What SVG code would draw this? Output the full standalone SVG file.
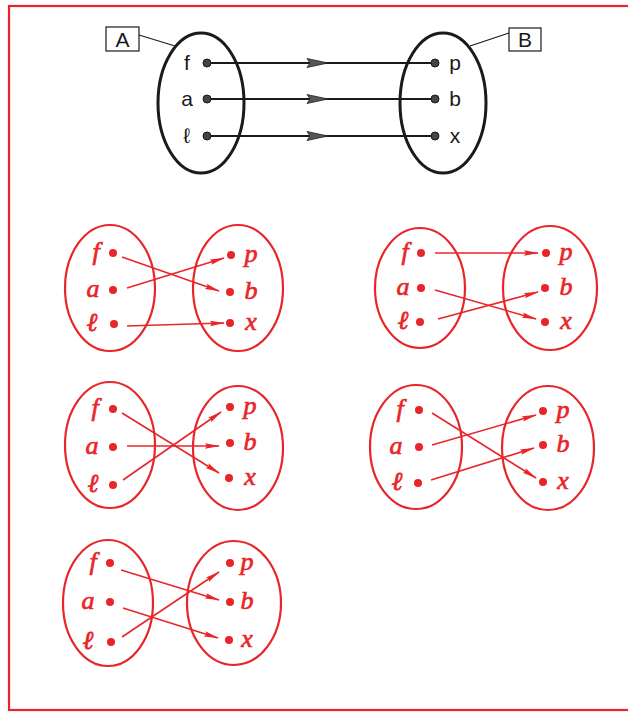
<svg xmlns="http://www.w3.org/2000/svg" width="628" height="712" viewBox="0 0 628 712">
<style>
.frame{fill:none;stroke:#e8262a;stroke-width:2.2}
.bk{fill:none;stroke:#1a1a1a;stroke-width:3}
.bl{stroke:#1a1a1a;stroke-width:1.8;fill:none}
.bthin{stroke:#1a1a1a;stroke-width:1.2;fill:none}
.bdot{fill:#444;stroke:#1a1a1a;stroke-width:1}
.btxt{font-family:"Liberation Sans",Arial,sans-serif;font-size:21px;fill:#1a1a1a;text-anchor:middle}
.rel{fill:none;stroke:#e8262a;stroke-width:2.2}
.rl{stroke:#e8262a;stroke-width:1.6;fill:none;marker-end:url(#rarr)}
.rdot{fill:#e8262a}
.rtxt{font-family:"Liberation Serif","DejaVu Serif",serif;font-style:italic;font-size:26px;fill:#e8262a;stroke:#e8262a;stroke-width:0.7;text-anchor:middle}
</style>
<defs>
<marker id="rarr" markerUnits="userSpaceOnUse" markerWidth="15" markerHeight="7" viewBox="0 0 15 7" refX="14" refY="3.5" orient="auto">
<path d="M0,0.8 L15,3.5 L0,6.2 L2,3.5 z" fill="#e8262a"/>
</marker>
<path id="bhead" d="M-10,-4.5 L11,0 L-10,4.5 L-7,0 z" fill="#555" stroke="#222" stroke-width="0.8"/>
</defs>
<rect class="frame" x="9" y="6" width="630" height="704"/>

<g id="top-A">
<rect class="bthin" x="106" y="27" width="33" height="24"/>
<text class="btxt" x="122.5" y="46.5">A</text>
<line class="bthin" x1="139" y1="35" x2="175" y2="46"/>
<ellipse class="bk" cx="201" cy="103" rx="43" ry="70"/>
<text class="btxt" x="187" y="70">f</text>
<text class="btxt" x="187" y="106">a</text>
<text class="btxt" x="187" y="143">ℓ</text>
</g>
<g id="top-B">
<rect class="bthin" x="509" y="28" width="32" height="23"/>
<text class="btxt" x="525" y="47">B</text>
<line class="bthin" x1="509" y1="33" x2="470" y2="46"/>
<ellipse class="bk" cx="443" cy="103" rx="43" ry="70"/>
<text class="btxt" x="455" y="70">p</text>
<text class="btxt" x="455" y="106">b</text>
<text class="btxt" x="455" y="143">x</text>
</g>
<g id="top-connectors">
<line class="bl" x1="207" y1="63" x2="435" y2="63"/>
<line class="bl" x1="207" y1="99" x2="435" y2="99"/>
<line class="bl" x1="207" y1="136" x2="435" y2="136"/>
<use href="#bhead" x="317" y="63"/>
<use href="#bhead" x="317" y="99"/>
<use href="#bhead" x="317" y="136"/>
<circle class="bdot" cx="207" cy="63" r="4"/>
<circle class="bdot" cx="207" cy="99" r="4"/>
<circle class="bdot" cx="207" cy="136" r="4"/>
<circle class="bdot" cx="435" cy="63" r="4"/>
<circle class="bdot" cx="435" cy="99" r="4"/>
<circle class="bdot" cx="435" cy="136" r="4"/>
</g>

<!-- Diagram 1 -->
<g id="d1-A">
<ellipse class="rel" cx="110" cy="288" rx="45" ry="63"/>
<text class="rtxt" x="96" y="260">f</text>
<text class="rtxt" x="93" y="297">a</text>
<text class="rtxt" x="92" y="331">ℓ</text>
<circle class="rdot" cx="113" cy="253" r="4"/>
<circle class="rdot" cx="113" cy="290" r="4"/>
<circle class="rdot" cx="114" cy="324" r="4"/>
</g>
<g id="d1-B">
<ellipse class="rel" cx="238" cy="288" rx="45" ry="63"/>
<circle class="rdot" cx="231" cy="255" r="4"/>
<circle class="rdot" cx="230" cy="292" r="4"/>
<circle class="rdot" cx="230" cy="323" r="4"/>
<text class="rtxt" x="251" y="262">p</text>
<text class="rtxt" x="251" y="299">b</text>
<text class="rtxt" x="251" y="330">x</text>
</g>
<g id="d1-connectors">
<line class="rl" x1="122" y1="257" x2="219" y2="291"/>
<line class="rl" x1="127" y1="288" x2="224" y2="258"/>
<line class="rl" x1="127" y1="326" x2="224" y2="323"/>
</g>

<!-- Diagram 2 -->
<g id="d2-A">
<ellipse class="rel" cx="420" cy="288" rx="45" ry="60"/>
<text class="rtxt" x="405" y="260">f</text>
<text class="rtxt" x="403" y="295">a</text>
<text class="rtxt" x="403" y="329">ℓ</text>
<circle class="rdot" cx="421" cy="253" r="4"/>
<circle class="rdot" cx="421" cy="288" r="4"/>
<circle class="rdot" cx="420" cy="322" r="4"/>
</g>
<g id="d2-B">
<ellipse class="rel" cx="550" cy="288" rx="47" ry="62"/>
<circle class="rdot" cx="546" cy="253" r="4"/>
<circle class="rdot" cx="545" cy="288" r="4"/>
<circle class="rdot" cx="545" cy="322" r="4"/>
<text class="rtxt" x="566" y="260">p</text>
<text class="rtxt" x="566" y="295">b</text>
<text class="rtxt" x="566" y="329">x</text>
</g>
<g id="d2-connectors">
<line class="rl" x1="435" y1="253" x2="538" y2="253"/>
<line class="rl" x1="435" y1="290" x2="536" y2="319"/>
<line class="rl" x1="438" y1="319" x2="538" y2="292"/>
</g>

<!-- Diagram 3 -->
<g id="d3-A">
<ellipse class="rel" cx="110" cy="445" rx="45" ry="63"/>
<text class="rtxt" x="95" y="416">f</text>
<text class="rtxt" x="92" y="454">a</text>
<text class="rtxt" x="93" y="492">ℓ</text>
<circle class="rdot" cx="113" cy="409" r="4"/>
<circle class="rdot" cx="113" cy="447" r="4"/>
<circle class="rdot" cx="113" cy="485" r="4"/>
</g>
<g id="d3-B">
<ellipse class="rel" cx="238" cy="448" rx="45" ry="62"/>
<circle class="rdot" cx="230" cy="407" r="4"/>
<circle class="rdot" cx="230" cy="443" r="4"/>
<circle class="rdot" cx="229" cy="478" r="4"/>
<text class="rtxt" x="250" y="414">p</text>
<text class="rtxt" x="250" y="450">b</text>
<text class="rtxt" x="250" y="485">x</text>
</g>
<g id="d3-connectors">
<line class="rl" x1="122" y1="413" x2="219" y2="473"/>
<line class="rl" x1="127" y1="446" x2="219" y2="446"/>
<line class="rl" x1="123" y1="480" x2="221" y2="412"/>
</g>

<!-- Diagram 4 -->
<g id="d4-A">
<ellipse class="rel" cx="416" cy="447" rx="46" ry="62"/>
<text class="rtxt" x="400" y="417">f</text>
<text class="rtxt" x="396" y="454">a</text>
<text class="rtxt" x="397" y="490">ℓ</text>
<circle class="rdot" cx="419" cy="410" r="4"/>
<circle class="rdot" cx="419" cy="447" r="4"/>
<circle class="rdot" cx="418" cy="483" r="4"/>
</g>
<g id="d4-B">
<ellipse class="rel" cx="548" cy="448" rx="46" ry="62"/>
<circle class="rdot" cx="543" cy="411" r="4"/>
<circle class="rdot" cx="543" cy="445" r="4"/>
<circle class="rdot" cx="543" cy="482" r="4"/>
<text class="rtxt" x="563" y="418">p</text>
<text class="rtxt" x="563" y="452">b</text>
<text class="rtxt" x="563" y="489">x</text>
</g>
<g id="d4-connectors">
<line class="rl" x1="432" y1="413" x2="536" y2="478"/>
<line class="rl" x1="432" y1="445" x2="536" y2="415"/>
<line class="rl" x1="431" y1="480" x2="534" y2="448"/>
</g>

<!-- Diagram 5 -->
<g id="d5-A">
<ellipse class="rel" cx="108" cy="603" rx="45" ry="63"/>
<text class="rtxt" x="93" y="570">f</text>
<text class="rtxt" x="88" y="609">a</text>
<text class="rtxt" x="88" y="649">ℓ</text>
<circle class="rdot" cx="110" cy="563" r="4"/>
<circle class="rdot" cx="110" cy="602" r="4"/>
<circle class="rdot" cx="111" cy="642" r="4"/>
</g>
<g id="d5-B">
<ellipse class="rel" cx="234" cy="603" rx="47" ry="62"/>
<circle class="rdot" cx="230" cy="563" r="4"/>
<circle class="rdot" cx="230" cy="602" r="4"/>
<circle class="rdot" cx="229" cy="640" r="4"/>
<text class="rtxt" x="247" y="570">p</text>
<text class="rtxt" x="247" y="609">b</text>
<text class="rtxt" x="247" y="647">x</text>
</g>
<g id="d5-connectors">
<line class="rl" x1="121" y1="570" x2="219" y2="600"/>
<line class="rl" x1="123" y1="608" x2="218" y2="638"/>
<line class="rl" x1="122" y1="637" x2="219" y2="572"/>
</g>
</svg>
